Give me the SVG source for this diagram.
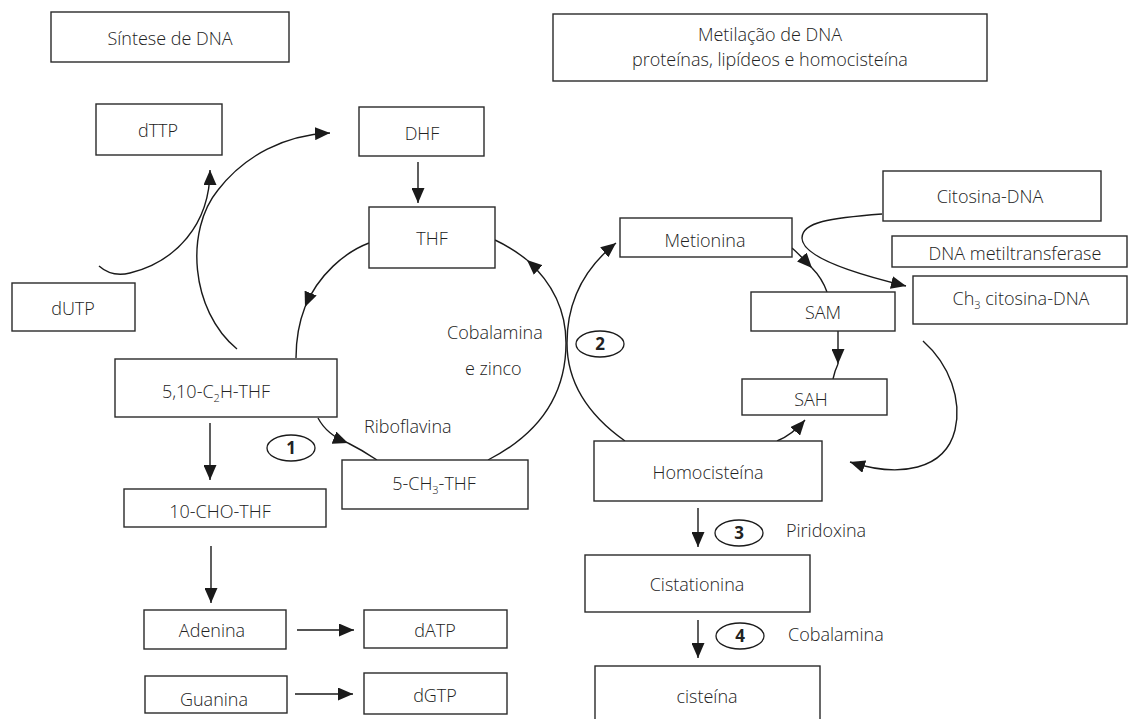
<svg xmlns="http://www.w3.org/2000/svg" width="1128" height="719" viewBox="0 0 1128 719">
<defs>
<marker id="ah" viewBox="0 0 15 13" refX="15" refY="6.5" markerWidth="15" markerHeight="13" orient="auto" markerUnits="userSpaceOnUse"><path d="M0,0 L15,6.5 L0,13 z" fill="#1a1a1a"/></marker>
<style>
.box{fill:#fff;stroke:#2a2a2a;stroke-width:1.4}
.t{font-family:"Open Sans","Noto Sans","DejaVu Sans",sans-serif;font-size:18px;font-weight:350;fill:#222;text-anchor:middle}
.l{font-family:"Open Sans","Noto Sans","DejaVu Sans",sans-serif;font-size:18px;font-weight:350;fill:#222}
.n{font-family:"Open Sans","Noto Sans","DejaVu Sans",sans-serif;font-size:17px;font-weight:bold;fill:#222;text-anchor:middle}
.c{fill:none;stroke:#1a1a1a;stroke-width:1.4}
.e{fill:#fff;stroke:#1a1a1a;stroke-width:1.3}
.sub{font-size:11px}
</style>
</defs>
<rect width="1128" height="719" fill="#fff"/>

<g id="connectors">
<path class="c" d="M369,243 C345,252 318,275 305,307" marker-end="url(#ah)"/>
<path class="c" d="M305,307 C298,325 296,340 296,358"/>
<path class="c" d="M318,418 Q327,435 348,443" marker-end="url(#ah)"/>
<path class="c" d="M348,443 Q362,450 377,460"/>
<path class="c" d="M488,460 Q566,420 566,343 Q566,295 527,260" marker-end="url(#ah)"/>
<path class="c" d="M527,260 Q512,248 495,240"/>
<path class="c" d="M625,441 Q567,400 567,343 Q567,282 616,243" marker-end="url(#ah)"/>
<path class="c" d="M99,266 C108,274 118,276 130,273 C175,262 210,225 210,170" marker-end="url(#ah)"/>
<path class="c" d="M237,349 C190,310 185,230 218,190 C245,155 285,135 330,133" marker-end="url(#ah)"/>
<path class="c" d="M792,248 Q800,255 812,268" marker-end="url(#ah)"/>
<path class="c" d="M812,268 Q822,278 827,292"/>
<path class="c" d="M838,331 L838,364" marker-end="url(#ah)"/>
<path class="c" d="M838,364 Q835,370 833,379"/>
<path class="c" d="M777,441 Q792,435 805,420" marker-end="url(#ah)"/>
<path class="c" d="M882,214 C830,218 802,222 802,238 C802,258 860,275 906,286" marker-end="url(#ah)"/>
<path class="c" d="M923,341 C950,365 962,400 955,430 C945,470 900,478 850,462" marker-end="url(#ah)"/>
<path class="c" d="M418,162 L418,203" marker-end="url(#ah)"/>
<path class="c" d="M210,423 L210,480" marker-end="url(#ah)"/>
<path class="c" d="M211,546 L211,603" marker-end="url(#ah)"/>
<path class="c" d="M297,630 L354,630" marker-end="url(#ah)"/>
<path class="c" d="M295,694 L353,694" marker-end="url(#ah)"/>
<path class="c" d="M698,508 L698,547" marker-end="url(#ah)"/>
<path class="c" d="M698,620 L698,658" marker-end="url(#ah)"/>
</g>

<g id="sintese"><rect class="box" x="51" y="12" width="238" height="50"/><text class="t" x="170" y="45">Síntese de DNA</text></g>
<g id="metilacao"><rect class="box" x="553" y="14" width="434" height="67"/><text class="t" x="770" y="41">Metilação de DNA</text><text class="t" x="770" y="66">proteínas, lipídeos e homocisteína</text></g>
<g id="dTTP"><rect class="box" x="96" y="104" width="126" height="51"/><text class="t" x="158" y="137">dTTP</text></g>
<g id="DHF"><rect class="box" x="359" y="107" width="125" height="49"/><text class="t" x="422" y="140">DHF</text></g>
<g id="THF"><rect class="box" x="369" y="207" width="126" height="61"/><text class="t" x="432" y="245">THF</text></g>
<g id="dUTP"><rect class="box" x="12" y="283" width="123" height="48"/><text class="t" x="73" y="315">dUTP</text></g>
<g id="c2h-thf"><rect class="box" x="115" y="359" width="222" height="58"/><text class="t" x="216" y="398">5,10-C<tspan class="sub" dy="4">2</tspan><tspan dy="-4">H-THF</tspan></text></g>
<g id="cho-thf"><rect class="box" x="124" y="489" width="202" height="38"/><text class="t" x="220" y="518">10-CHO-THF</text></g>
<g id="ch3-thf"><rect class="box" x="342" y="460" width="186" height="49"/><text class="t" x="434" y="490">5-CH<tspan class="sub" dy="4">3</tspan><tspan dy="-4">-THF</tspan></text></g>
<g id="adenina"><rect class="box" x="144" y="610" width="142" height="39"/><text class="t" x="212" y="637">Adenina</text></g>
<g id="dATP"><rect class="box" x="364" y="610" width="143" height="38"/><text class="t" x="435" y="637">dATP</text></g>
<g id="guanina"><rect class="box" x="145" y="676" width="142" height="37"/><text class="t" x="214" y="706">Guanina</text></g>
<g id="dGTP"><rect class="box" x="364" y="673" width="143" height="41"/><text class="t" x="435" y="702">dGTP</text></g>
<g id="metionina"><rect class="box" x="620" y="218" width="172" height="39"/><text class="t" x="705" y="247">Metionina</text></g>
<g id="citosina"><rect class="box" x="883" y="171" width="218" height="50"/><text class="t" x="990" y="203">Citosina-DNA</text></g>
<g id="dnamt"><rect class="box" x="892" y="236" width="235" height="31"/><text class="t" x="1015" y="260">DNA metiltransferase</text></g>
<g id="ch3cit"><rect class="box" x="913" y="276" width="214" height="48"/><text class="t" x="1021" y="305">Ch<tspan class="sub" dy="4">3</tspan><tspan dy="-4"> citosina-DNA</tspan></text></g>
<g id="SAM"><rect class="box" x="751" y="292" width="144" height="39"/><text class="t" x="823" y="319">SAM</text></g>
<g id="SAH"><rect class="box" x="742" y="379" width="145" height="36"/><text class="t" x="811" y="406">SAH</text></g>
<g id="homocisteina"><rect class="box" x="594" y="441" width="228" height="60"/><text class="t" x="708" y="479">Homocisteína</text></g>
<g id="cistationina"><rect class="box" x="585" y="555" width="225" height="57"/><text class="t" x="697" y="591">Cistationina</text></g>
<g id="cisteina"><rect class="box" x="595" y="666" width="225" height="60"/><text class="t" x="707" y="703">cisteína</text></g>

<g id="labels">
<text class="l" x="447" y="339">Cobalamina</text>
<text class="l" x="465" y="375">e zinco</text>
<text class="l" x="364" y="433">Riboflavina</text>
<text class="l" x="786" y="537">Piridoxina</text>
<text class="l" x="788" y="641">Cobalamina</text>
</g>
<g id="step1"><ellipse class="e" cx="291" cy="448" rx="24" ry="13"/><text class="n" x="291" y="454">1</text></g>
<g id="step2"><ellipse class="e" cx="600" cy="344" rx="24" ry="13"/><text class="n" x="600" y="350">2</text></g>
<g id="step3"><ellipse class="e" cx="739" cy="533" rx="24" ry="13"/><text class="n" x="739" y="539">3</text></g>
<g id="step4"><ellipse class="e" cx="740" cy="636" rx="24" ry="13"/><text class="n" x="740" y="642">4</text></g>
</svg>
